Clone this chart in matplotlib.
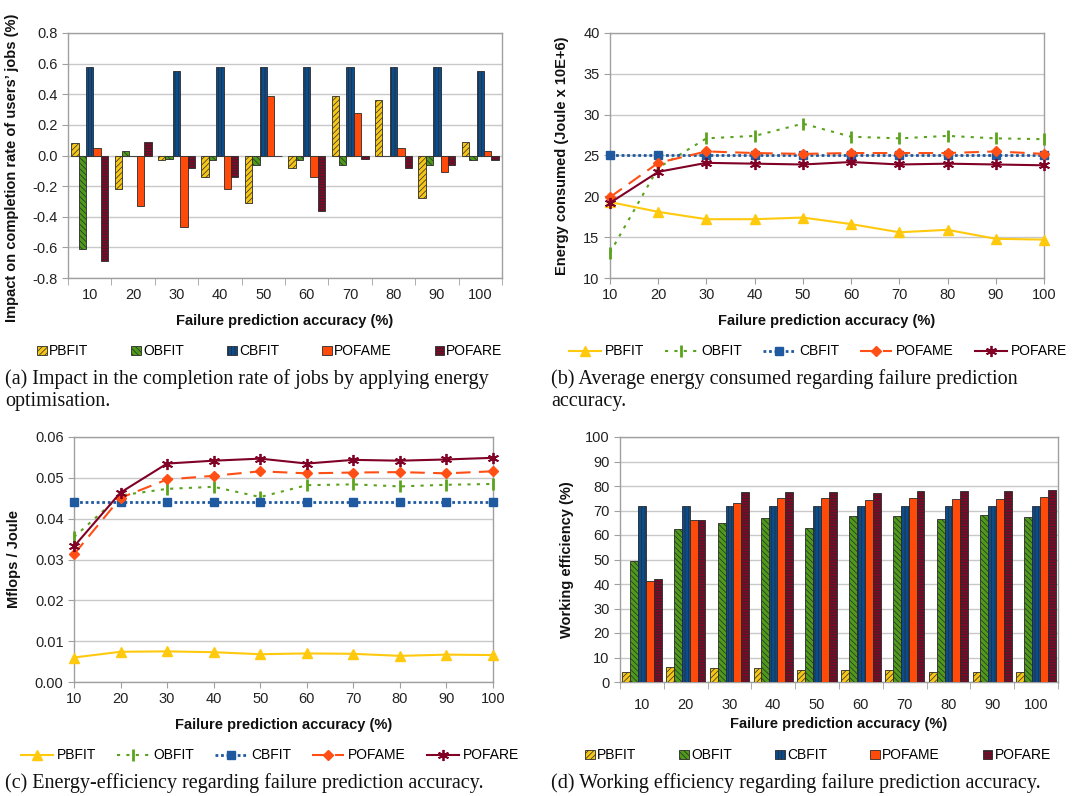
import matplotlib
matplotlib.use("Agg")
import matplotlib.pyplot as plt
import numpy as np
from matplotlib import font_manager

avail = {f.name for f in font_manager.fontManager.ttflist}
SANS = "Liberation Sans" if "Liberation Sans" in avail else "DejaVu Sans"
SERIF = "Liberation Serif" if "Liberation Serif" in avail else "DejaVu Serif"
plt.rcParams['font.family'] = [SANS, 'DejaVu Sans']
plt.rcParams['hatch.linewidth'] = 0.5

categories = ["10", "20", "30", "40", "50", "60", "70", "80", "90", "100"]
accuracy = [10, 20, 30, 40, 50, 60, 70, 80, 90, 100]
series = ["PBFIT", "OBFIT", "CBFIT", "POFAME", "POFARE"]

# (a) impact on completion rate (%)
impact_pbfit = [0.08, -0.22, -0.03, -0.14, -0.31, -0.08, 0.39, 0.36, -0.28, 0.09]
impact_obfit = [-0.61, 0.03, -0.02, -0.03, -0.06, -0.03, -0.06, 0.0, -0.06, -0.03]
impact_cbfit = [0.58, 0.0, 0.55, 0.58, 0.58, 0.58, 0.58, 0.58, 0.58, 0.55]
impact_pofame = [0.05, -0.33, -0.47, -0.22, 0.39, -0.14, 0.28, 0.05, -0.11, 0.03]
impact_pofare = [-0.69, 0.09, -0.08, -0.14, 0.0, -0.36, -0.02, -0.08, -0.06, -0.03]

# (b) energy consumed (Joule x 10E+6)
energy_pbfit = [19.3, 18.1, 17.2, 17.2, 17.4, 16.6, 15.6, 15.9, 14.8, 14.7]
energy_obfit = [13.1, 23.5, 27.1, 27.4, 28.9, 27.3, 27.1, 27.4, 27.1, 27.0]
energy_cbfit = [25.1, 25.1, 25.1, 25.1, 25.1, 25.1, 25.1, 25.1, 25.1, 25.1]
energy_pofame = [19.9, 24.1, 25.5, 25.3, 25.2, 25.3, 25.3, 25.3, 25.5, 25.2]
energy_pofare = [19.2, 23.0, 24.1, 24.0, 23.9, 24.2, 23.9, 24.0, 23.9, 23.8]

# (c) energy efficiency (Mflops / Joule)
eff_pbfit = [0.0060, 0.0074, 0.0075, 0.0073, 0.0068, 0.0070, 0.0069, 0.0064, 0.0067, 0.0066]
eff_obfit = [0.0355, 0.0457, 0.0473, 0.0478, 0.0453, 0.0482, 0.0484, 0.0479, 0.0483, 0.0485]
eff_cbfit = [0.0440, 0.0440, 0.0440, 0.0440, 0.0440, 0.0440, 0.0440, 0.0440, 0.0440, 0.0440]
eff_pofame = [0.0313, 0.0451, 0.0496, 0.0505, 0.0516, 0.0511, 0.0513, 0.0514, 0.0511, 0.0516]
eff_pofare = [0.0332, 0.0464, 0.0535, 0.0542, 0.0547, 0.0535, 0.0544, 0.0542, 0.0545, 0.0549]

# (d) working efficiency (%)
work_pbfit = [4.1, 6.1, 5.9, 5.9, 5.0, 4.8, 5.0, 4.1, 4.1, 4.1]
work_obfit = [49.5, 62.3, 65.0, 67.1, 63.0, 67.9, 67.9, 66.7, 68.3, 67.5]
work_cbfit = [71.7, 71.7, 71.7, 71.7, 71.7, 71.7, 71.7, 71.7, 71.7, 71.7]
work_pofame = [41.2, 66.0, 73.2, 75.0, 75.2, 74.4, 75.1, 74.8, 74.6, 75.4]
work_pofare = [42.2, 66.3, 77.6, 77.4, 77.6, 77.0, 78.1, 78.1, 78.1, 78.2]

colors = ["#F5C518", "#4E9A1A", "#0B4D8C", "#FF4A0A", "#7A0A28"]
line_colors = ["#FFC90E", "#5BA31E", "#1F5AA0", "#FF4F14", "#800026"]
hatches = ["//////", "\\\\\\\\\\\\", "|||||", "", "------"]
edge = "#2a2a2a"

W, H = 1075, 796
fig = plt.figure(figsize=(W / 100, H / 100), dpi=100)


def add_ax(l, t, r, b):
    return fig.add_axes([l / W, 1 - b / H, (r - l) / W, (b - t) / H])


def style_ax(ax):
    for s in ax.spines.values():
        s.set_color("#a0a0a0")
        s.set_linewidth(1.0)
    ax.grid(axis="y", color="#c8c8c8", linewidth=1.0)
    ax.set_axisbelow(True)
    ax.tick_params(labelsize=10.5, colors="#222222", length=4, color="#a0a0a0")


def bar_panel(ax, data, width, pad):
    x = np.arange(len(categories))
    n = len(data)
    for i, vals in enumerate(data):
        off = (i - (n - 1) / 2) * width
        ax.bar(x + off, vals, width, color=colors[i], edgecolor=edge,
               linewidth=0.6, hatch=hatches[i], label=series[i], zorder=3)
    ax.set_xlim(-0.5, len(categories) - 0.5)
    ax.set_xticks(x)
    ax.set_xticklabels(categories)
    ax.set_xticks(np.arange(-0.5, len(categories)), minor=True)
    ax.tick_params(axis="x", which="major", length=0, pad=pad)
    ax.tick_params(axis="x", which="minor", length=5, color="#a0a0a0")


def line_panel(ax, data):
    specs = [
        dict(ls="-", marker="^", ms=7, lw=1.5),
        dict(ls=(0, (1.5, 3)), marker="|", ms=9, mew=2, lw=1.5),
        dict(ls=(0, (1, 1)), marker="s", ms=6, lw=2.0),
        dict(ls=(0, (7, 4)), marker="D", ms=5, lw=1.5),
        dict(ls="-", marker=(6, 2, 0), ms=8, mew=1.3, lw=1.5),
    ]
    for i, vals in enumerate(data):
        ax.plot(accuracy, vals, color=line_colors[i], label=series[i],
                zorder=3, clip_on=False, **specs[i])
    ax.set_xlim(10, 100)
    ax.set_xticks(accuracy)
    ax.set_xticklabels(categories)


xlab = "Failure prediction accuracy (%)"
lab_kw = dict(fontsize=10.5, fontweight="bold", color="#111111")
bar_leg = dict(loc="upper center", ncol=5, frameon=False, handlelength=0.7,
               handleheight=0.7, handletextpad=0.15, columnspacing=3.1,
               prop={"size": 10})
line_leg = dict(loc="upper center", ncol=5, frameon=False, handlelength=2.3,
                handletextpad=0.3, columnspacing=1.5, prop={"size": 10})

# (a)
ax1 = add_ax(68, 33, 502, 278)
style_ax(ax1)
bar_panel(ax1, [impact_pbfit, impact_obfit, impact_cbfit, impact_pofame, impact_pofare], 0.17, 7.1)
ax1.set_ylim(-0.8, 0.8)
yt = np.round(np.arange(-0.8, 0.81, 0.2), 1)
ax1.set_yticks(yt)
ax1.set_yticklabels([f"{v:.1f}" if abs(v) > 1e-9 else "0.0" for v in yt])
ax1.set_ylabel("Impact on completion rate of users’ jobs (%)", labelpad=8, **lab_kw)
ax1.yaxis.set_label_coords(-0.112, 0.45)
ax1.set_xlabel(xlab, labelpad=8.6, **lab_kw)
ax1.legend(bbox_to_anchor=(0.465, -0.22), **bar_leg)

# (b)
ax2 = add_ax(610, 33, 1044, 278)
style_ax(ax2)
line_panel(ax2, [energy_pbfit, energy_obfit, energy_cbfit, energy_pofame, energy_pofare])
ax2.set_ylim(10, 40)
ax2.set_yticks(range(10, 41, 5))
ax2.set_ylabel("Energy consumed (Joule x 10E+6)", labelpad=10, **lab_kw)
ax2.set_xlabel(xlab, labelpad=8, **lab_kw)
ax2.legend(bbox_to_anchor=(0.479, -0.22), **line_leg)

# (c)
ax3 = add_ax(74, 437, 493, 682)
style_ax(ax3)
line_panel(ax3, [eff_pbfit, eff_obfit, eff_cbfit, eff_pofame, eff_pofare])
ax3.set_ylim(0, 0.06)
yt3 = np.round(np.arange(0, 0.061, 0.01), 2)
ax3.set_yticks(yt3)
ax3.set_yticklabels([f"{v:.2f}" for v in yt3])
ax3.set_ylabel("Mflops / Joule", labelpad=10, **lab_kw)
ax3.set_xlabel(xlab, labelpad=8, **lab_kw)
ax3.legend(bbox_to_anchor=(0.468, -0.22), **line_leg)

# (d)
ax4 = add_ax(620, 437, 1058, 682)
style_ax(ax4)
bar_panel(ax4, [work_pbfit, work_obfit, work_cbfit, work_pofame, work_pofare], 0.18, 11.5)
ax4.set_ylim(0, 100)
ax4.set_yticks(range(0, 101, 10))
ax4.set_ylabel("Working efficiency (%)", labelpad=8, **lab_kw)
ax4.set_xlabel(xlab, labelpad=3.5, **lab_kw)
ax4.legend(bbox_to_anchor=(0.452, -0.22), **bar_leg)

cap_kw = dict(fontsize=14.5, family=SERIF, color="#111111", va="center", ha="left")
fig.text(5 / W, 1 - 379 / H, "(a) Impact in the completion rate of jobs by applying energy", **cap_kw)
fig.text(5 / W, 1 - 401 / H, "optimisation.", **cap_kw)
fig.text(551 / W, 1 - 379 / H, "(b) Average energy consumed regarding failure prediction", **cap_kw)
fig.text(551 / W, 1 - 401 / H, "accuracy.", **cap_kw)
fig.text(5 / W, 1 - 783 / H, "(c) Energy-efficiency regarding failure prediction accuracy.", **cap_kw)
fig.text(551 / W, 1 - 783 / H, "(d) Working efficiency regarding failure prediction accuracy.", **cap_kw)

fig.savefig("out.png", dpi=100)
